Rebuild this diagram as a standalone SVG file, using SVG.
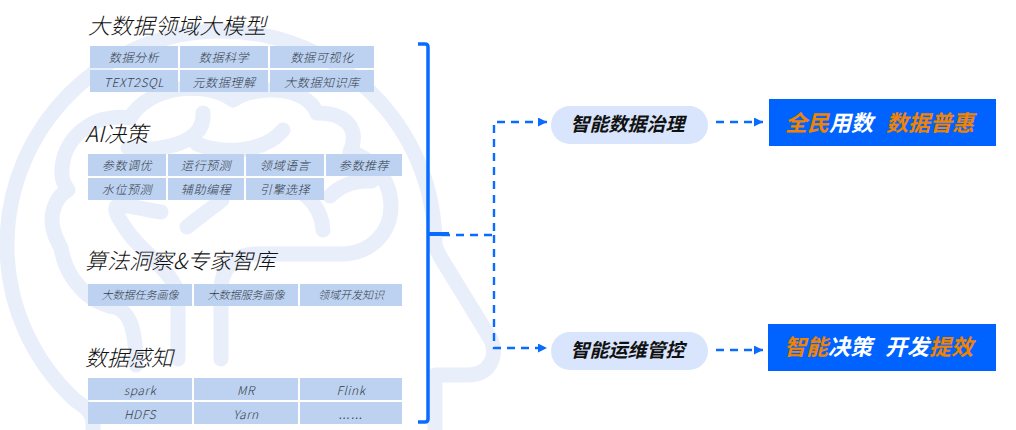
<svg xmlns="http://www.w3.org/2000/svg" width="1016" height="430" viewBox="0 0 1016 430">
<defs>
<marker id="ah" markerUnits="userSpaceOnUse" markerWidth="10" markerHeight="10" refX="9" refY="4.5" orient="auto"><path d="M0 0L9 4.5L0 9Z" fill="#0a6cff"/></marker>
</defs>
<style>
text{font-family:"Noto Sans CJK SC","Liberation Sans",sans-serif}
.wm{fill:none;stroke:#e8eefa;stroke-width:15;stroke-linecap:round;stroke-linejoin:round}
.t{font-size:22px;font-weight:300;font-style:italic;fill:#111}
.c{fill:#bdd2f0}
.l{font-size:12px;letter-spacing:.6px;font-weight:300;font-style:italic;fill:#333c4a;text-anchor:middle}
.s{font-size:11px;letter-spacing:0}
.d{fill:none;stroke:#0a6cff;stroke-width:2.4;stroke-dasharray:8 6}
.p{fill:#d8e5fc}
.pt{font-size:19px;font-weight:700;font-style:italic;fill:#111;text-anchor:middle}
.b{fill:#0062ff}
.bt{font-size:22px;font-weight:700;font-style:italic;fill:#fff}
.o{fill:#f08300}
</style>
<g id="watermark">
<path class="wm" d="M93 432V424C93 412 84 406 75 400C33 361 7 306 7 245C7 127 103 31 221 31C339 31 435 127 435 245C437 252 441 258 444 263L490 338C499 355 490 375 468 375L435 375V432"/>
<path class="wm" stroke-linecap="butt" d="M221 359V290C221 270 233 255 255 254L345 254C372 252 391 232 391 206C391 180 372 158 350 152C362 125 340 112 317 113C305 85 255 85 233 100C205 80 150 85 130 118C92 112 60 140 62 175C62 182 66 187 68 190C58 195 52 208 52 220C52 232 57 240 61 248C66 280 90 303 115 307C130 312 136 330 136 365"/>
<path class="wm" stroke-linecap="butt" d="M178 359V295C174 272 140 250 128 232C120 220 112 210 118 205"/>
<path class="wm" d="M161 212C148 210 132 206 118 205"/>
<path class="wm" d="M203 113C204 128 195 140 170 146C155 150 140 150 128 148"/>
<path class="wm" d="M283 130C265 152 225 155 197 144"/>
<path class="wm" d="M187 227C200 216 212 208 222 200"/>
<path class="wm" d="M323 230C322 210 308 192 290 188M330 196C340 186 355 180 372 181"/>
</g>
<g id="n1">
<text class="t" x="88" y="34" letter-spacing=".3">大数据领域大模型</text>
<rect class="c" x="90" y="46" width="88" height="22"/><text class="l" x="134" y="62">数据分析</text>
<rect class="c" x="180" y="46" width="88" height="22"/><text class="l" x="224" y="62">数据科学</text>
<rect class="c" x="270" y="46" width="104" height="22"/><text class="l" x="322" y="62">数据可视化</text>
<rect class="c" x="90" y="70" width="88" height="22"/><text class="l" x="134" y="87">TEXT2SQL</text>
<rect class="c" x="180" y="70" width="88" height="22"/><text class="l" x="224" y="87">元数据理解</text>
<rect class="c" x="270" y="70" width="104" height="22"/><text class="l" x="322" y="87">大数据知识库</text>
</g>
<g id="n2">
<text class="t" x="85" y="142">AI决策</text>
<rect class="c" x="88" y="154" width="78" height="22"/><text class="l" x="127" y="170">参数调优</text>
<rect class="c" x="168" y="154" width="76" height="22"/><text class="l" x="206" y="170">运行预测</text>
<rect class="c" x="246" y="154" width="78" height="22"/><text class="l" x="285" y="170">领域语言</text>
<rect class="c" x="326" y="154" width="76" height="22"/><text class="l" x="364" y="170">参数推荐</text>
<rect class="c" x="88" y="178" width="78" height="22"/><text class="l" x="127" y="194">水位预测</text>
<rect class="c" x="168" y="178" width="76" height="22"/><text class="l" x="206" y="194">辅助编程</text>
<rect class="c" x="246" y="178" width="78" height="22"/><text class="l" x="285" y="194">引擎选择</text>
</g>
<g id="n3">
<text class="t" x="85" y="269">算法洞察&amp;专家智库</text>
<rect class="c" x="88" y="284" width="104" height="22"/><text class="l s" x="140" y="299">大数据任务画像</text>
<rect class="c" x="194" y="284" width="104" height="22"/><text class="l s" x="246" y="299">大数据服务画像</text>
<rect class="c" x="300" y="284" width="102" height="22"/><text class="l s" x="351" y="299">领域开发知识</text>
</g>
<g id="n4">
<text class="t" x="85" y="366">数据感知</text>
<rect class="c" x="88" y="378" width="104" height="22"/><text class="l" x="140" y="395">spark</text>
<rect class="c" x="194" y="378" width="104" height="22"/><text class="l" x="246" y="395">MR</text>
<rect class="c" x="300" y="378" width="102" height="22"/><text class="l" x="351" y="395">Flink</text>
<rect class="c" x="88" y="402" width="104" height="22"/><text class="l" x="140" y="419">HDFS</text>
<rect class="c" x="194" y="402" width="104" height="22"/><text class="l" x="246" y="419">Yarn</text>
<rect class="c" x="300" y="402" width="102" height="22"/><text class="l" x="351" y="419" style="font-family:'Liberation Sans',sans-serif">……</text>
</g>
<g id="connectors">
<path d="M418 44H425Q428 44 428 47V419Q428 422 425 422H418" fill="none" stroke="#0a6cff" stroke-width="3.5"/>
<path d="M428 234H449" fill="none" stroke="#0a6cff" stroke-width="4"/>
<path class="d" d="M442 235H494V122H547" marker-end="url(#ah)"/>
<path class="d" d="M494 235V348H547" marker-end="url(#ah)"/>
<path class="d" d="M716 122H763" marker-end="url(#ah)"/>
<path class="d" d="M716 350H763" marker-end="url(#ah)"/>
</g>
<g id="gov"><rect class="p" x="551" y="106" width="157" height="38" rx="19"/><text class="pt" x="627.5" y="131">智能数据治理</text></g>
<g id="ops"><rect class="p" x="551" y="332" width="157" height="38" rx="19"/><text class="pt" x="627.5" y="357">智能运维管控</text></g>
<g id="r1"><rect class="b" x="769" y="99" width="227" height="47"/><text class="bt" y="131"><tspan class="o" x="785">全民</tspan><tspan>用数</tspan><tspan class="o" x="886">数据普惠</tspan></text></g>
<g id="r2"><rect class="b" x="768" y="324" width="228" height="47"/><text class="bt" y="355"><tspan class="o" x="784">智能</tspan><tspan>决策</tspan><tspan x="885">开发</tspan><tspan class="o">提效</tspan></text></g>
</svg>
